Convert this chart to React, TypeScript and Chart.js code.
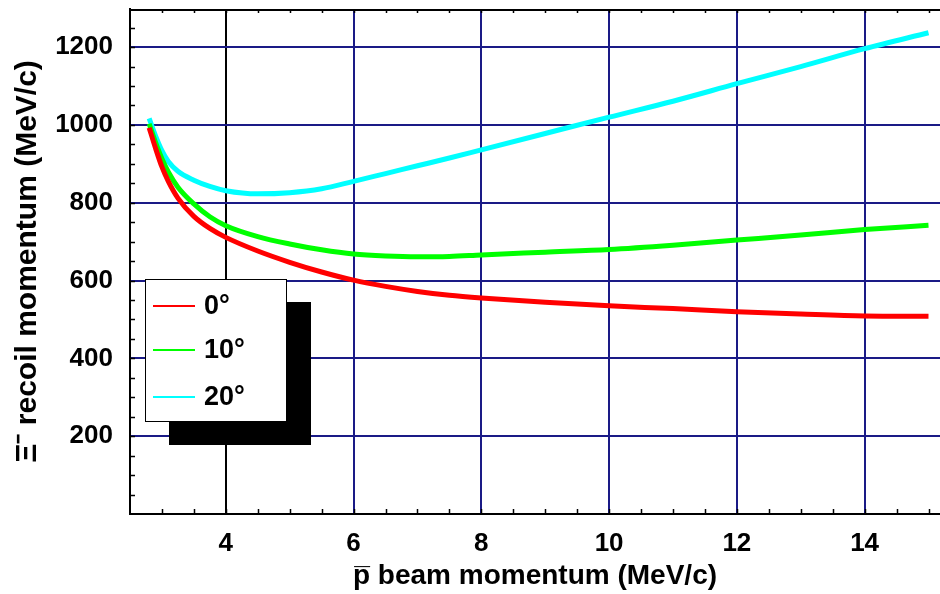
import React, { useEffect, useRef } from "react";
import { Chart, registerables } from "chart.js";

Chart.register(...registerables);

// Beam momentum values (x) and recoil momentum for the three angles
const momentum = [2.8, 2.9, 3.0, 3.1, 3.25, 3.5, 3.75, 4, 4.5, 5, 5.5, 6, 6.5, 7, 7.5, 8, 9, 10, 11, 12, 13, 14, 15];
const recoil0 = [993, 940, 892, 855, 812, 765, 734, 711, 676, 647, 622, 601, 585, 572, 562, 555, 544, 535, 528, 520, 514, 509, 508];
const recoil10 = [1003, 955, 913, 879, 840, 797, 764, 741, 713, 694, 679, 668, 663, 661, 662, 666, 673, 680, 691, 704, 717, 731, 742];
const recoil20 = [1017, 972, 934, 906, 881, 858, 842, 831, 823, 826, 836, 855, 875, 895, 915, 936, 978, 1020, 1061, 1106, 1150, 1196, 1237];

const seriesLabels = ["0°", "10°", "20°"];
const seriesColors = ["#ff0000", "#00ff00", "#00ffff"];
const xTickValues = [4, 6, 8, 10, 12, 14];
const yTickValues = [200, 400, 600, 800, 1000, 1200];

const FONT = '"Liberation Sans", Arial, Helvetica, sans-serif';
const NAVY = "#1a1a86";

const framePlugin = {
  id: "frame",
  beforeDatasetsDraw(chart: any) {
    const { ctx, chartArea, scales } = chart;
    const { left, right, top, bottom } = chartArea;
    const x = scales.x;
    const y = scales.y;
    ctx.save();
    ctx.strokeStyle = "#000";
    ctx.lineWidth = 2;
    ctx.beginPath();
    ctx.moveTo(left, top + 1);
    ctx.lineTo(right, top + 1);
    ctx.stroke();
    ctx.lineWidth = 1.5;
    ctx.beginPath();
    for (let v = 3; v <= 15.01; v += 0.5) {
      const px = Math.round(x.getPixelForValue(v)) + 0.5;
      ctx.moveTo(px, top);
      ctx.lineTo(px, top + 4);
      ctx.moveTo(px, bottom);
      ctx.lineTo(px, bottom - 5);
    }
    for (let v = 50; v < 1290; v += 50) {
      const py = Math.round(y.getPixelForValue(v)) + 0.5;
      ctx.moveTo(left, py);
      ctx.lineTo(left + 5, py);
    }
    ctx.stroke();
    ctx.restore();
  },
};

export default function App() {
  const canvasRef = useRef<HTMLCanvasElement | null>(null);

  useEffect(() => {
    const canvas = canvasRef.current;
    if (!canvas) return;
    const series = [recoil0, recoil10, recoil20];
    const chart = new Chart(canvas, {
      type: "line",
      data: {
        datasets: series.map((vals, i) => ({
          label: seriesLabels[i],
          data: momentum.map((m, j) => ({ x: m, y: vals[j] })),
          borderColor: seriesColors[i],
          backgroundColor: seriesColors[i],
          borderWidth: 5,
          pointRadius: 0,
          cubicInterpolationMode: "monotone" as const,
          fill: false,
        })),
      },
      options: {
        animation: false,
        responsive: false,
        devicePixelRatio: 1,
        layout: { padding: { top: 9, right: 0, left: 0, bottom: 0 } },
        plugins: {
          legend: { display: false },
          tooltip: { enabled: false },
        },
        scales: {
          x: {
            type: "linear",
            min: 2.5,
            max: 15.18,
            afterBuildTicks: (s: any) => {
              s.ticks = xTickValues.map((v) => ({ value: v }));
            },
            afterFit: (s: any) => {
              s.height = 80;
              s.paddingLeft = 0;
              s.paddingRight = 0;
            },
            grid: {
              color: (c: any) => (c.tick && c.tick.value === 4 ? "#000" : NAVY),
              lineWidth: 2,
              drawTicks: false,
            },
            border: { display: true, color: "#000", width: 2 },
            ticks: {
              color: "#000",
              font: { family: FONT, size: 26, weight: "bold" },
              padding: 14,
              maxRotation: 0,
              autoSkip: false,
              callback: (v: any) => String(v),
            },
            title: {
              display: true,
              text: "p\u0305 beam momentum (MeV/c)",
              color: "#000",
              font: { family: FONT, size: 28, weight: "bold" },
              padding: { top: 0, bottom: 1 },
            },
          },
          y: {
            type: "linear",
            min: 0,
            max: 1298,
            afterBuildTicks: (s: any) => {
              s.ticks = yTickValues.map((v) => ({ value: v }));
            },
            afterFit: (s: any) => {
              s.width = 130;
              s.paddingTop = 0;
              s.paddingBottom = 0;
            },
            grid: {
              color: NAVY,
              lineWidth: 2,
              drawTicks: false,
            },
            border: { display: true, color: "#000", width: 2 },
            ticks: {
              color: "#000",
              font: { family: FONT, size: 26, weight: "bold" },
              padding: 17,
              autoSkip: false,
              callback: (v: any) => String(v),
            },
            title: {
              display: true,
              text: "Ξ⁻ recoil momentum (MeV/c)",
              color: "#000",
              font: { family: FONT, size: 30, weight: "bold" },
              padding: { top: 10, bottom: 0 },
            },
          },
        },
      },
      plugins: [framePlugin],
    });
    return () => chart.destroy();
  }, []);

  const legendTops = [306, 350, 397];

  return (
    <div style={{ position: "fixed", left: 0, top: 0, width: 940, height: 594, background: "#fff", overflow: "hidden" }}>
      <canvas ref={canvasRef} width={940} height={594} style={{ display: "block", width: 940, height: 594 }} />
      <div
        style={{
          position: "absolute",
          left: 145,
          top: 279,
          width: 142,
          height: 143,
          boxSizing: "border-box",
          background: "#fff",
          border: "1px solid #000",
          boxShadow: "24px 23px 0 #000",
        }}
      >
        {seriesLabels.map((lab, i) => (
          <React.Fragment key={lab}>
            <div
              style={{
                position: "absolute",
                left: 7,
                top: legendTops[i] - 279 - 2,
                width: 42,
                height: 2,
                background: seriesColors[i],
              }}
            />
            <div
              style={{
                position: "absolute",
                left: 58,
                top: legendTops[i] - 279 - 17,
                height: 34,
                lineHeight: "34px",
                font: `bold 27px ${FONT}`,
                color: "#000",
                whiteSpace: "nowrap",
              }}
            >
              {lab}
            </div>
          </React.Fragment>
        ))}
      </div>
    </div>
  );
}
